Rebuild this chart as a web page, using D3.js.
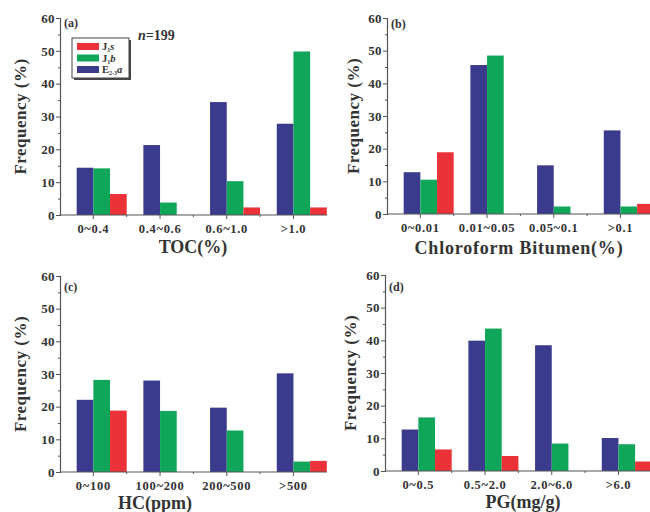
<!DOCTYPE html>
<html><head><meta charset="utf-8">
<script src="https://cdn.jsdelivr.net/npm/d3@7"></script>
<style>body{margin:0;background:#fff;} svg{display:block;}</style>
</head><body>
<svg id="chart" width="650" height="512"></svg>
<script>
// ---- data ----
const seriesNames = ["E", "J1b", "J1s"];
const seriesColors = ["#3b3b8e", "#10a65a", "#ea3238"];
const tocCats = ["0~0.4", "0.4~0.6", "0.6~1.0", ">1.0"];
const tocE   = [14.4, 21.3, 34.4, 27.8];
const tocJ1b = [14.2, 3.8, 10.3, 49.8];
const tocJ1s = [6.4, 0, 2.3, 2.3];
const cbCats = ["0~0.01", "0.01~0.05", "0.05~0.1", ">0.1"];
const cbE   = [12.8, 45.6, 14.9, 25.6];
const cbJ1b = [10.5, 48.5, 2.3, 2.3];
const cbJ1s = [18.9, 0, 0, 3.1];
const hcCats = ["0~100", "100~200", "200~500", ">500"];
const hcE   = [22.1, 28.0, 19.7, 30.2];
const hcJ1b = [28.2, 18.7, 12.7, 3.2];
const hcJ1s = [18.8, 0, 0, 3.4];
const pgCats = ["0~0.5", "0.5~2.0", "2.0~6.0", ">6.0"];
const pgE   = [12.7, 39.9, 38.5, 10.1];
const pgJ1b = [16.4, 43.6, 8.4, 8.2];
const pgJ1s = [6.6, 4.6, 0, 2.9];
const yTicks = [0, 10, 20, 30, 40, 50, 60];

const FONT = "'Liberation Serif','Times New Roman',serif";
const svg = d3.select("#chart");

const panels = [
  {cats: tocCats, vals: [tocE, tocJ1b, tocJ1s], left: 60, y0: 215, y60: 18, label: "(a)", labY: 27, title: "TOC(%)", titleX: 193, titleY: 253, freqX: 20, legend: true},
  {cats: cbCats, vals: [cbE, cbJ1b, cbJ1s], left: 387, y0: 214, y60: 18, label: "(b)", labY: 28, title: "Chloroform Bitumen(%)", titleX: 519, titleY: 254, freqX: 353},
  {cats: hcCats, vals: [hcE, hcJ1b, hcJ1s], left: 60, y0: 472, y60: 276, label: "(c)", labY: 291, title: "HC(ppm)", titleX: 155, titleY: 509, freqX: 20},
  {cats: pgCats, vals: [pgE, pgJ1b, pgJ1s], left: 385, y0: 471, y60: 275, label: "(d)", labY: 291, title: "PG(mg/g)", titleX: 523, titleY: 508, freqX: 350}
];

panels.forEach(p => {
  const g = svg.append("g");
  const y = d3.scaleLinear().domain([0, 60]).range([p.y0, p.y60]);
  const step = 66.7;
  const x0 = d3.scaleBand().domain(p.cats)
    .range([p.left + step / 4, p.left + step / 4 + 3.75 * step])
    .paddingInner(0.25).paddingOuter(0);
  const x1 = d3.scaleBand().domain(seriesNames).range([0, x0.bandwidth()]);
  const xEnd = p.left + step / 4 + 4 * step - step / 4;

  // bars
  seriesNames.forEach((s, si) => {
    g.selectAll(null).data(p.cats.map((c, i) => ({c, v: p.vals[si][i]})).filter(d => d.v > 0))
      .enter().append("rect")
      .attr("x", d => x0(d.c) + x1(s))
      .attr("y", d => y(d.v))
      .attr("width", x1.bandwidth())
      .attr("height", d => y(0) - y(d.v))
      .attr("fill", seriesColors[si]);
  });

  // y axis
  const yAxis = d3.axisLeft(y).tickValues(yTicks).tickSize(4).tickPadding(1);
  const ya = g.append("g").attr("transform", `translate(${p.left},0)`).call(yAxis);
  ya.select(".domain").attr("stroke", "#555").attr("stroke-width", 1.2);
  ya.selectAll(".tick line").attr("stroke", "#555");
  ya.selectAll("text").attr("font-family", FONT).attr("font-weight", "bold").attr("font-size", 13)
    .attr("letter-spacing", 0.4).attr("fill", "#333");
  const yMinor = d3.axisLeft(y).tickValues([5, 15, 25, 35, 45, 55]).tickSize(2).tickFormat("");
  const ym = g.append("g").attr("transform", `translate(${p.left},0)`).call(yMinor);
  ym.select(".domain").remove();
  ym.selectAll(".tick line").attr("stroke", "#555");

  // x axis
  g.append("line").attr("x1", p.left).attr("x2", xEnd).attr("y1", y(0)).attr("y2", y(0))
    .attr("stroke", "#555").attr("stroke-width", 1.2);
  p.cats.forEach((c, i) => {
    const tx = x0(c) + x0.bandwidth() / 3;
    g.append("line").attr("x1", tx).attr("x2", tx).attr("y1", y(0)).attr("y2", y(0) + 4).attr("stroke", "#555");
    g.append("text").attr("x", tx).attr("y", y(0) + 18).attr("text-anchor", "middle")
      .attr("font-family", FONT).attr("font-weight", "bold").attr("font-size", 12.5)
      .attr("letter-spacing", 0.7).attr("fill", "#333").text(c);
    if (i < p.cats.length - 1) {
      const mx = tx + step / 2;
      g.append("line").attr("x1", mx).attr("x2", mx).attr("y1", y(0)).attr("y2", y(0) + 2).attr("stroke", "#555");
    }
  });

  // titles
  g.append("text").attr("x", p.titleX).attr("y", p.titleY).attr("text-anchor", "middle")
    .attr("font-family", FONT).attr("font-weight", "bold").attr("font-size", 18).attr("fill", "#333")
    .attr("letter-spacing", p.title.length > 12 ? 0.8 : 0).text(p.title);
  const ym2 = (p.y0 + p.y60) / 2;
  g.append("text").attr("transform", `translate(${p.freqX + 6},${ym2}) rotate(-90)`).attr("text-anchor", "middle")
    .attr("font-family", FONT).attr("font-weight", "bold").attr("font-size", 17).attr("fill", "#333")
    .attr("letter-spacing", 0.5).text("Frequency (%)");
  g.append("text").attr("x", p.left + 4).attr("y", p.labY)
    .attr("font-family", FONT).attr("font-weight", "bold").attr("font-size", 12).attr("fill", "#333").text(p.label);

  if (p.legend) {
    const lg = g.append("g");
    lg.append("rect").attr("x", 74).attr("y", 40).attr("width", 57).attr("height", 40).attr("fill", "#444");
    lg.append("rect").attr("x", 72).attr("y", 38).attr("width", 57).attr("height", 40).attr("fill", "#fff").attr("stroke", "#444").attr("stroke-width", 1);
    const order = [2, 1, 0];
    const labs = [
      {main: "J", sub: "1", it: "s"},
      {main: "J", sub: "1", it: "b"},
      {main: "E", sub: "2-3", it: "a"}
    ];
    order.forEach((si, k) => {
      const ry = 43 + k * 11.5;
      lg.append("rect").attr("x", 77).attr("y", ry).attr("width", 22).attr("height", 7).attr("fill", seriesColors[si]);
      const t = lg.append("text").attr("x", 102).attr("y", ry + 7).attr("font-family", FONT)
        .attr("font-weight", "bold").attr("font-size", 10.5).attr("fill", "#333");
      t.append("tspan").text(labs[k].main);
      t.append("tspan").attr("font-size", 6).attr("dy", 2).text(labs[k].sub);
      t.append("tspan").attr("font-style", "italic").attr("dy", -2).text(labs[k].it);
    });
    const nt = g.append("text").attr("x", 138).attr("y", 40).attr("font-family", FONT)
      .attr("font-weight", "bold").attr("font-size", 14).attr("fill", "#333");
    nt.append("tspan").attr("font-style", "italic").text("n");
    nt.append("tspan").text("=199");
  }
});
</script>
</body></html>
